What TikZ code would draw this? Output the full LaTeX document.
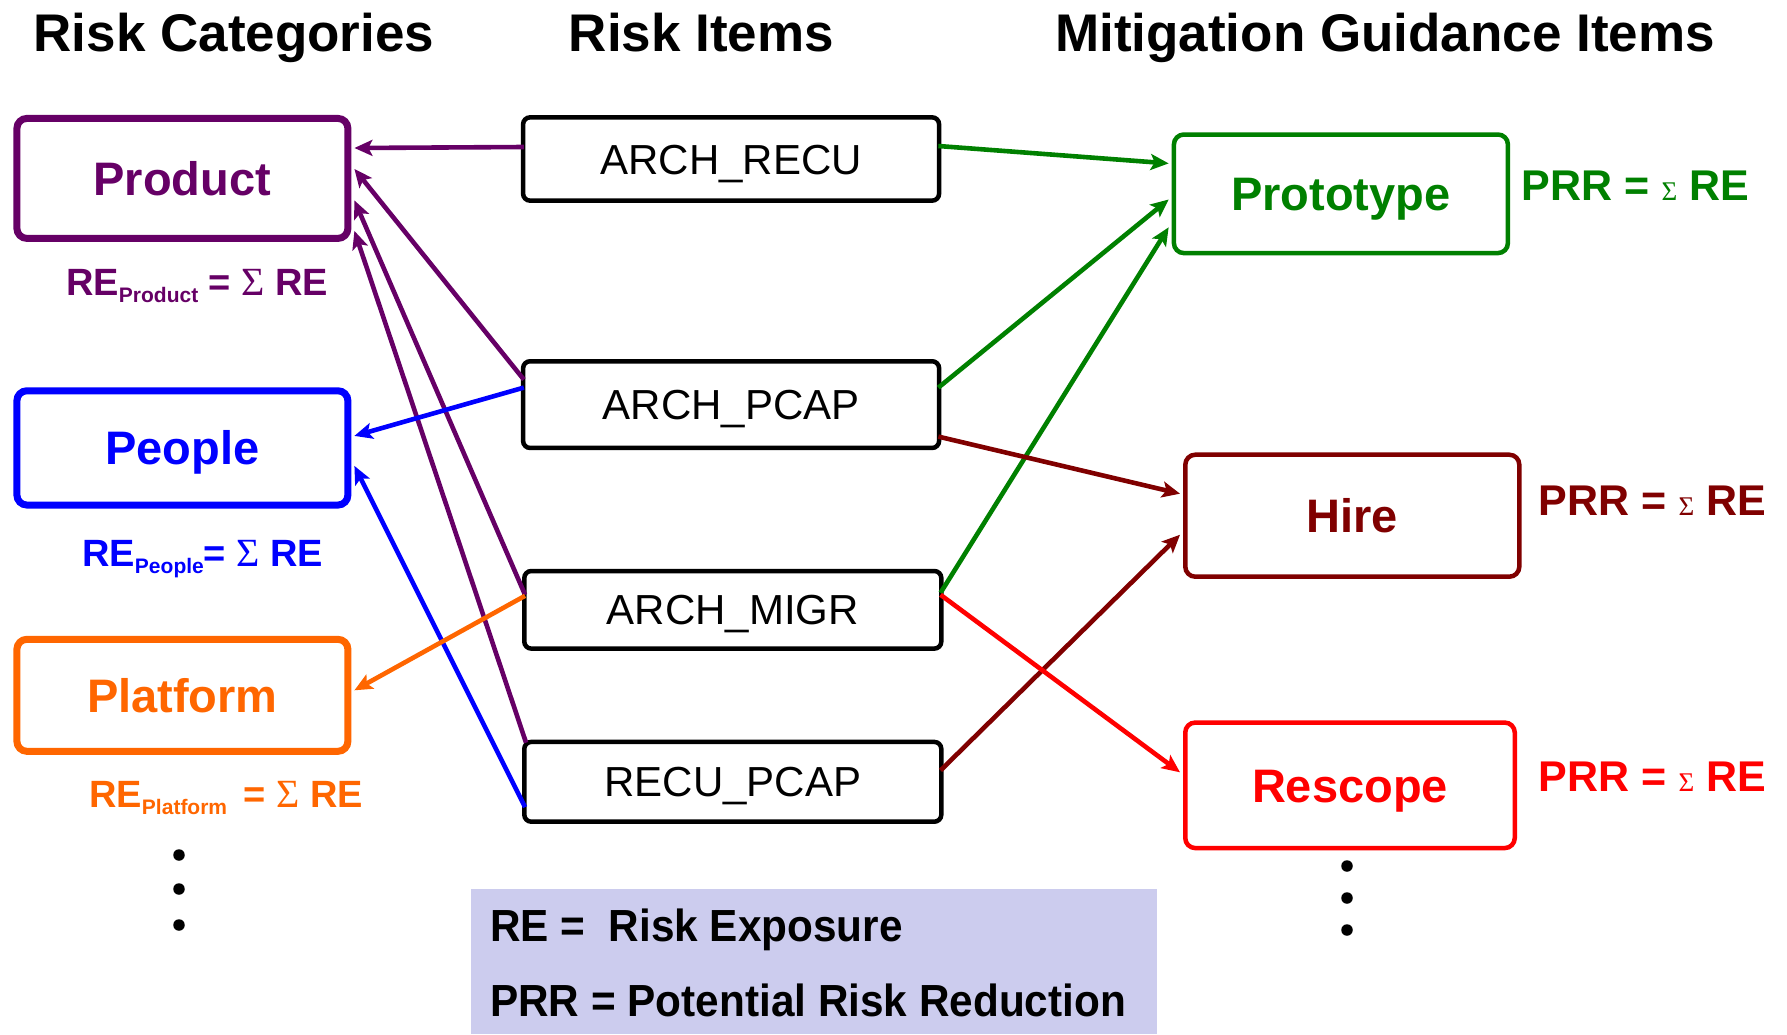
\documentclass[tikz,border=0pt]{standalone}
\usepackage{fontspec}
\setmainfont{Liberation Sans}
\newfontfamily\serifsym{Liberation Serif}
\newfontfamily\narrowfont[FakeStretch=0.94]{Liberation Sans}
\usetikzlibrary{arrows.meta,calc}
\definecolor{cpurple}{HTML}{660066}
\definecolor{cblue}{HTML}{0000FF}
\definecolor{corange}{HTML}{FF6600}
\definecolor{cgreen}{HTML}{008000}
\definecolor{cdarkred}{HTML}{800000}
\definecolor{cred}{HTML}{FF0000}
\definecolor{clegend}{HTML}{CCCCEE}
\newcommand{\sumsym}[1]{{\serifsym\mdseries\fontsize{#1}{#1}\selectfont\char"03A3}}
\begin{document}
\begin{tikzpicture}[x=1pt,y=-1pt,
  title/.style={font=\fontsize{53}{58}\selectfont\bfseries,anchor=base,inner sep=0},
  catbox/.style={draw,rounded corners=10pt,line width=7pt,minimum width=331pt,
    font=\fontsize{47}{50}\selectfont\bfseries,inner sep=0,text height=34pt,text depth=0pt},
  itembox/.style={draw=black,rounded corners=7pt,line width=4.5pt,minimum width=416pt,
    font=\fontsize{42}{46}\selectfont,inner sep=0,text height=30pt,text depth=0pt},
  mitbox/.style={draw,rounded corners=10pt,line width=4.5pt,minimum width=334pt,
    font=\fontsize{47}{50}\selectfont\bfseries,inner sep=0,text height=34pt,text depth=0pt},
  relabel/.style={font=\fontsize{38}{40}\selectfont\bfseries,anchor=base west,inner sep=0},
  prrlabel/.style={font=\fontsize{43}{46}\selectfont\bfseries,anchor=base west,inner sep=0},
  legtext/.style={font=\narrowfont\fontsize{45}{48}\selectfont\bfseries,anchor=base west,inner sep=0},
  conn/.style={line width=4.6pt,-{Stealth[length=18pt,width=16pt,inset=4pt]}},
  dot/.style={circle,fill=black,inner sep=0,minimum size=11.5pt}
]
\useasboundingbox (0,0) rectangle (1787,1034);

% titles
\node[title] (t1) at (234,51) {Risk Categories};
\node[title] (t2) at (701.5,51) {Risk Items};
\node[title] (t3) at (1385,51) {Mitigation Guidance Items};

% risk categories
\node[catbox,draw=cpurple,text=cpurple,minimum height=120pt] (product) at (182.4,178.4) {Product};
\node[catbox,draw=cblue,text=cblue,minimum height=114.3pt] (people) at (182.4,447.9) {People};
\node[catbox,draw=corange,text=corange,minimum height=112pt] (platform) at (182.4,695.3) {Platform};

\node[relabel,text=cpurple] (reprod) at (66,295) {RE\raisebox{-7pt}{\fontsize{21}{22}\selectfont Product} = \sumsym{40} RE};
\node[relabel,text=cblue] (repeop) at (82,566) {RE\raisebox{-7pt}{\fontsize{21}{22}\selectfont People}= \sumsym{40} RE};
\node[relabel,text=corange] (replat) at (89,807) {RE\raisebox{-7pt}{\fontsize{21}{22}\selectfont Platform}\hspace{6pt} = \sumsym{40} RE};

% risk items
\node[itembox,minimum height=83.3pt] (arecu) at (731.1,159) {ARCH\_RECU};
\node[itembox,minimum height=86.7pt] (apcap) at (731.1,404.6) {ARCH\_PCAP};
\node[itembox,minimum width=417pt,minimum height=77.6pt] (amigr) at (732.8,609.8) {ARCH\_MIGR};
\node[itembox,minimum width=417pt,minimum height=79.8pt] (rpcap) at (732.8,781.8) {RECU\_PCAP};

% mitigation items
\node[mitbox,draw=cgreen,text=cgreen,minimum height=118.6pt] (proto) at (1340.9,193.8) {Prototype};
\node[mitbox,draw=cdarkred,text=cdarkred,minimum height=122pt] (hire) at (1352.3,515.7) {Hire};
\node[mitbox,draw=cred,text=cred,minimum width=329.5pt,minimum height=125.5pt] (rescope) at (1350,785.3) {Rescope};

\node[prrlabel,text=cgreen] (prr1) at (1521.5,200.6) {PRR = \sumsym{27} RE};
\node[prrlabel,text=cdarkred] (prr2) at (1538.6,515) {PRR = \sumsym{27} RE};
\node[prrlabel,text=cred] (prr3) at (1538.6,791) {PRR = \sumsym{27} RE};

% connectors to categories
\draw[conn,cpurple] ($(arecu.west)+(3,-12)$) -- ($(product.east)+(3,-30.4)$);
\draw[conn,cpurple] ($(apcap.west)+(3,-25)$) -- ($(product.east)+(3,-9.4)$);
\draw[conn,cpurple] ($(amigr.west)+(3,-15)$) -- ($(product.east)+(3,22)$);
\draw[conn,cpurple] ($(rpcap.north west)+(4,3)$) -- ($(product.east)+(3,52.5)$);
\draw[conn,cblue] ($(apcap.west)+(3,-17)$) -- ($(people.east)+(3,-12)$);
\draw[conn,cblue] ($(rpcap.west)+(3,25.3)$) -- ($(people.east)+(3,18)$);
\draw[conn,corange] ($(amigr.west)+(3,-14)$) -- ($(platform.east)+(3,-5)$);

% connectors to mitigation
\draw[conn,cgreen] ($(arecu.east)+(-3,-13)$) -- ($(proto.west)+(-3,-30.4)$);
\draw[conn,cgreen] ($(apcap.east)+(-3,-17)$) -- ($(proto.west)+(-3,5.7)$);
\draw[conn,cgreen] ($(amigr.east)+(-3,-17)$) -- ($(proto.west)+(-3,33.5)$);
\draw[conn,cdarkred] ($(apcap.east)+(-3,32)$) -- ($(hire.west)+(-3,-22)$);
\draw[conn,cdarkred] ($(rpcap.east)+(-3,-11.4)$) -- ($(hire.west)+(-3,19)$);
\draw[conn,cred] ($(amigr.east)+(-3,-15)$) -- ($(rescope.west)+(-3,-13)$);

% dots
\node[dot] (ld1) at (179,855) {};
\node[dot] (ld2) at (179,889) {};
\node[dot] (ld3) at (179,925) {};
\node[dot] (rd1) at (1347,866) {};
\node[dot] (rd2) at (1347,898) {};
\node[dot] (rd3) at (1347,930) {};

% legend
\node[fill=clegend,minimum width=686pt,minimum height=145pt,anchor=north west,inner sep=0] (legend) at (470.7,889) {};
\node[legtext] (leg1) at (490,941) {RE = \ Risk Exposure};
\node[legtext] (leg2) at (490,1016.6) {PRR = Potential Risk Reduction};
\end{tikzpicture}
\end{document}
